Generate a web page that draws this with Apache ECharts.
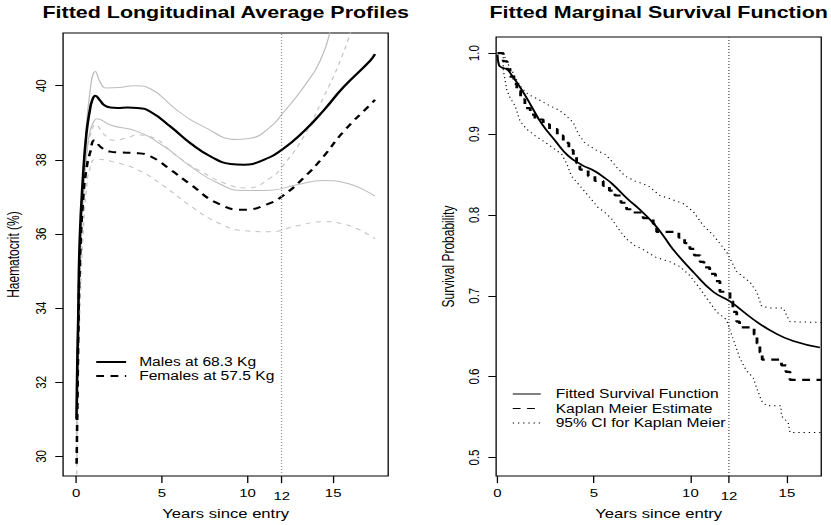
<!DOCTYPE html>
<html><head><meta charset="utf-8">
<script src="https://cdn.jsdelivr.net/npm/echarts@6.0.0/dist/echarts.min.js"></script>
<style>
html,body{margin:0;padding:0;background:#fff;overflow:hidden;width:831px;height:525px}
#chart{width:639px;height:525px;transform:scaleX(1.30047);transform-origin:0 0;}
</style>
</head><body><div id="chart"></div>
<script>
// ---------- Left panel: fitted longitudinal average profiles ----------
const maleT   = [0.02, 0.07, 0.12, 0.21, 0.41, 0.60, 0.80, 0.95, 1.12, 1.4, 1.65, 2.0, 2.42, 3.0, 3.59, 4.36, 5.52, 6.69, 7.85, 9.01, 9.79, 10.95, 12.03, 13.27, 14.44, 15.6, 17.15, 17.44];
const maleFit = [31.0, 32.5, 33.6, 35.8, 37.6, 38.7, 39.33, 39.62, 39.73, 39.6, 39.47, 39.41, 39.40, 39.41, 39.40, 39.29, 38.89, 38.44, 38.09, 37.89, 37.87, 38.0, 38.28, 38.76, 39.33, 39.96, 40.67, 40.85];
const maleUpT = [0.02, 0.1, 0.2, 0.31, 0.5, 0.8, 1.13, 1.4, 1.74, 2.5, 3.39, 4.36, 5.91, 7.46, 9.4, 10.17, 11.34, 12.03, 13.27, 14.24, 14.9];
const maleUp  = [31.8, 33.8, 35.5, 36.6, 38.2, 39.8, 40.38, 40.1, 39.94, 39.95, 40.0, 39.91, 39.33, 38.89, 38.55, 38.58, 38.89, 39.24, 39.96, 40.67, 41.6];
const maleLoT = [0.03, 0.12, 0.21, 0.41, 0.6, 0.8, 1.0, 1.22, 2.03, 3.59, 5.13, 6.69, 8.24, 9.79, 11.34, 12.89, 14.44, 15.6, 17.44];
const maleLo  = [30.5, 33.2, 35.0, 36.9, 38.1, 38.75, 39.0, 39.11, 38.93, 38.76, 38.36, 37.82, 37.38, 37.17, 37.18, 37.33, 37.44, 37.39, 37.02];

const femT    = [0.03, 0.08, 0.13, 0.22, 0.42, 0.62, 0.82, 1.07, 1.45, 2.0, 2.42, 3.59, 4.36, 5.52, 6.69, 8.24, 9.79, 11.14, 12.03, 13.27, 14.44, 15.6, 17.3, 17.44];
const femFit  = [29.8, 31.5, 33.3, 35.2, 37.0, 37.8, 38.2, 38.53, 38.34, 38.22, 38.2, 38.18, 38.09, 37.73, 37.33, 36.83, 36.65, 36.8, 37.02, 37.51, 38.09, 38.76, 39.55, 39.62];
const femUpT  = [0.03, 0.12, 0.21, 0.41, 0.6, 0.8, 1.16, 1.6, 2.23, 3.0, 3.59, 4.36, 5.91, 7.46, 9.01, 9.98, 11.34, 12.03, 13.27, 14.44, 15.41, 16.2];
const femUp   = [30.0, 32.8, 34.9, 36.9, 38.0, 38.6, 38.95, 38.7, 38.53, 38.6, 38.67, 38.62, 38.09, 37.64, 37.31, 37.24, 37.51, 37.82, 38.62, 39.69, 40.67, 41.7];
const femLoT  = [0.03, 0.12, 0.21, 0.41, 0.6, 0.8, 1.16, 2.03, 3.59, 5.13, 6.69, 8.24, 9.79, 11.34, 12.89, 14.44, 15.6, 17.44];
const femLo   = [29.3, 31.8, 33.8, 36.0, 37.2, 37.75, 38.02, 37.96, 37.73, 37.29, 36.75, 36.31, 36.09, 36.06, 36.22, 36.33, 36.27, 35.87];

const leftXTicks = [0, 5, 10, 12, 15];
const leftYTicks = [30, 32, 34, 36, 38, 40];

// ---------- Right panel: fitted marginal survival function ----------
const fitT = [0, 0.08, 0.25, 0.5, 0.7, 1.25, 1.77, 2.29, 2.98, 3.67, 4.36, 5.05, 5.48, 5.92, 6.69, 7.4, 8.07, 8.6, 9.11, 10.2, 11.18, 12.05, 13.25, 14.3, 15.33, 16.71];
const fitS = [0.998, 0.985, 0.982, 0.980, 0.974, 0.955, 0.934, 0.913, 0.892, 0.873, 0.862, 0.854, 0.847, 0.839, 0.821, 0.806, 0.790, 0.774, 0.757, 0.728, 0.705, 0.693, 0.671, 0.655, 0.644, 0.636];

const kmT = [0, 0.3, 0.5, 0.65, 0.85, 1.0, 1.2, 1.42, 1.7, 1.94, 2.37, 2.7, 3.1, 3.41, 3.7, 3.93, 4.1, 4.27, 4.7, 5.05, 5.48, 5.8, 6.09, 6.4, 6.69, 7.04, 7.55, 8.07, 8.25, 9.4, 9.7, 9.97, 10.2, 10.5, 10.7, 11.0, 11.3, 11.53, 12.05, 12.2, 12.4, 12.55, 13.3, 13.45, 13.6, 13.72, 14.72, 14.95, 15.16, 16.78];
const kmS = [1.0, 0.99, 0.98, 0.971, 0.962, 0.953, 0.943, 0.932, 0.924, 0.918, 0.912, 0.906, 0.898, 0.889, 0.88, 0.873, 0.864, 0.856, 0.848, 0.842, 0.836, 0.83, 0.824, 0.815, 0.807, 0.803, 0.796, 0.789, 0.779, 0.772, 0.765, 0.758, 0.75, 0.742, 0.735, 0.727, 0.718, 0.705, 0.693, 0.68, 0.668, 0.661, 0.652, 0.641, 0.63, 0.621, 0.614, 0.606, 0.596, 0.596];

const ciUpT = [0.3, 0.48, 0.74, 0.99, 1.25, 1.6, 2.11, 2.63, 3.15, 3.5, 3.93, 4.19, 4.53, 5.05, 5.57, 5.83, 6.18, 6.61, 7.12, 7.81, 8.42, 8.94, 9.63, 10.15, 10.66, 11.18, 11.88, 12.05, 12.39, 13.08, 13.43, 13.69, 14.12, 14.81, 14.98, 15.16, 16.78];
const ciUp  = [1.0, 0.989, 0.979, 0.967, 0.957, 0.949, 0.943, 0.936, 0.930, 0.924, 0.914, 0.900, 0.889, 0.881, 0.875, 0.869, 0.859, 0.848, 0.842, 0.836, 0.824, 0.820, 0.814, 0.804, 0.787, 0.775, 0.754, 0.746, 0.730, 0.717, 0.705, 0.687, 0.685, 0.685, 0.676, 0.668, 0.667];
const ciLoT = [0.3, 0.3, 0.48, 0.65, 0.91, 1.17, 1.51, 1.94, 2.46, 2.98, 3.33, 3.59, 3.84, 4.27, 4.7, 5.22, 5.57, 5.92, 6.26, 6.69, 7.12, 7.64, 8.16, 8.94, 9.46, 9.97, 10.49, 10.84, 11.36, 11.88, 12.05, 12.31, 12.56, 12.91, 13.25, 13.43, 13.69, 13.95, 14.68, 14.73, 15.07, 15.16, 16.78];
const ciLo  = [0.995, 0.979, 0.955, 0.945, 0.935, 0.916, 0.906, 0.898, 0.890, 0.881, 0.875, 0.863, 0.848, 0.836, 0.824, 0.809, 0.803, 0.795, 0.783, 0.770, 0.762, 0.756, 0.748, 0.742, 0.736, 0.725, 0.709, 0.697, 0.680, 0.670, 0.658, 0.640, 0.623, 0.607, 0.599, 0.586, 0.570, 0.564, 0.564, 0.551, 0.543, 0.531, 0.531];

const rightXTicks = [0, 5, 10, 12, 15];
const rightYTicks = [0.5, 0.6, 0.7, 0.8, 0.9, 1.0];
const refYear = 12;

// ---------- build ----------
const FONT = 'Liberation Sans, Arial, Helvetica, sans-serif';
const zip = (xs, ys) => xs.map((x, i) => [x, ys[i]]);
const chart = echarts.init(document.getElementById('chart'), null, {renderer: 'svg'});

const xLabelFmt = v => (v === refYear ? '{lo|' + v + '}' : String(v));
function xAxisCfg(grid, min, max, ticks) {
  return {
    gridIndex: grid, type: 'value', min: min, max: max,
    axisLine: {show: false, onZero: false},
    axisTick: {show: true, customValues: ticks, length: 7, lineStyle: {color: '#000', width: 1}},
    axisLabel: {customValues: ticks, formatter: xLabelFmt, margin: 11, color: '#000', fontSize: 11.5, fontFamily: FONT,
      rich: {lo: {padding: [3, 0, 0, 0], fontSize: 11.5, fontFamily: FONT, color: '#000'}}},
    splitLine: {show: false},
    name: 'Years since entry', nameLocation: 'middle', nameGap: 30,
    nameTextStyle: {fontSize: 12.8, fontFamily: FONT, color: '#000'}
  };
}
function yAxisCfg(grid, min, max, ticks, fmt, name, gap) {
  return {
    gridIndex: grid, type: 'value', min: min, max: max,
    axisLine: {show: false, onZero: false},
    axisTick: {show: true, customValues: ticks, length: 6, lineStyle: {color: '#000', width: 1}},
    axisLabel: {customValues: ticks, formatter: fmt, rotate: 90, margin: 11, color: '#000', fontSize: 11.5, fontFamily: FONT},
    splitLine: {show: false},
    name: name, nameLocation: 'middle', nameGap: gap,
    nameTextStyle: {fontSize: 12, fontFamily: FONT, color: '#000'}
  };
}
function lineSeries(name, data, xi, color, width, type, extra) {
  return Object.assign({
    name: name, type: 'line', xAxisIndex: xi, yAxisIndex: xi, data: data,
    symbol: 'none', showSymbol: false, silent: true,
    lineStyle: {color: color, width: width, type: type},
    itemStyle: {color: color}
  }, extra || {});
}
const smoothL = {smooth: 0.5};

const option = {
  animation: false,
  backgroundColor: '#fff',
  title: [
    {text: 'Fitted Longitudinal Average Profiles', left: 173.6, top: 4, padding: 0, textAlign: 'center',
     textStyle: {fontSize: 16.5, fontWeight: 'bold', fontFamily: FONT, color: '#000'}},
    {text: 'Fitted Marginal Survival Function', left: 506.5, top: 4, padding: 0, textAlign: 'center',
     textStyle: {fontSize: 16.5, fontWeight: 'bold', fontFamily: FONT, color: '#000'}}
  ],
  legend: [
    {data: ['Males at 68.3 Kg', 'Females at 57.5 Kg'], orient: 'vertical', left: 73, top: 356, padding: 0,
     itemWidth: 23, itemHeight: 12, itemGap: 2, selectedMode: false,
     itemStyle: {opacity: 0},
     textStyle: {fontSize: 12, fontFamily: FONT, color: '#000', padding: [0, 0, 0, 5]}},
    {data: ['Fitted Survival Function', 'Kaplan Meier Estimate', '95% CI for Kaplan Meier'], orient: 'vertical',
     left: 393.8, top: 388, padding: 0, itemWidth: 21.5, itemHeight: 12, itemGap: 2.5, selectedMode: false,
     itemStyle: {opacity: 0},
     lineStyle: {width: 1},
     textStyle: {fontSize: 12, fontFamily: FONT, color: '#000', padding: [0, 0, 0, 6.5]}}
  ],
  grid: [
    {left: 48.5, top: 33, width: 250, height: 447, show: true, borderColor: '#000', borderWidth: 1, backgroundColor: 'transparent'},
    {left: 381.5, top: 37, width: 250, height: 442, show: true, borderColor: '#000', borderWidth: 1, backgroundColor: 'transparent'}
  ],
  xAxis: [
    xAxisCfg(0, -0.76, 18.21, leftXTicks),
    xAxisCfg(1, -0.07, 16.78, rightXTicks)
  ],
  yAxis: [
    yAxisCfg(0, 29.47, 41.42, leftYTicks, v => String(v), 'Haematocrit (%)', 32),
    yAxisCfg(1, 0.477, 1.02, rightYTicks, v => v.toFixed(1), 'Survival Probability', 31)
  ],
  series: [
    lineSeries('Males upper', zip(maleUpT, maleUp), 0, '#bdbdbd', 1, 'solid', Object.assign({
      markLine: {silent: true, symbol: 'none', label: {show: false},
        lineStyle: {color: '#9a9a9a', width: 1, type: [1, 2]}, data: [{xAxis: refYear}]}}, smoothL)),
    lineSeries('Males lower', zip(maleLoT, maleLo), 0, '#bdbdbd', 1, 'solid', smoothL),
    lineSeries('Females upper', zip(femUpT, femUp), 0, '#c4c4c4', 1, [4, 4], smoothL),
    lineSeries('Females lower', zip(femLoT, femLo), 0, '#c4c4c4', 1, [4, 4], smoothL),
    lineSeries('Males at 68.3 Kg', zip(maleT, maleFit), 0, '#000', 2, 'solid', smoothL),
    lineSeries('Females at 57.5 Kg', zip(femT, femFit), 0, '#000', 2, [6, 5], smoothL),

    lineSeries('95% CI for Kaplan Meier', zip(ciUpT, ciUp), 1, '#000', 1, [1, 3], {
      markLine: {silent: true, symbol: 'none', label: {show: false},
        lineStyle: {color: '#555', width: 1, type: [1, 2]}, data: [{xAxis: refYear}]}}),
    lineSeries('95% CI lower', zip(ciLoT, ciLo), 1, '#000', 1, [1, 3]),
    lineSeries('Kaplan Meier Estimate', zip(kmT, kmS), 1, '#000', 2.2, [6, 5], {step: 'end'}),
    lineSeries('Fitted Survival Function', zip(fitT, fitS), 1, '#000', 1.6, 'solid', {smooth: 0.5})
  ]
};
chart.setOption(option);
</script></body></html>
